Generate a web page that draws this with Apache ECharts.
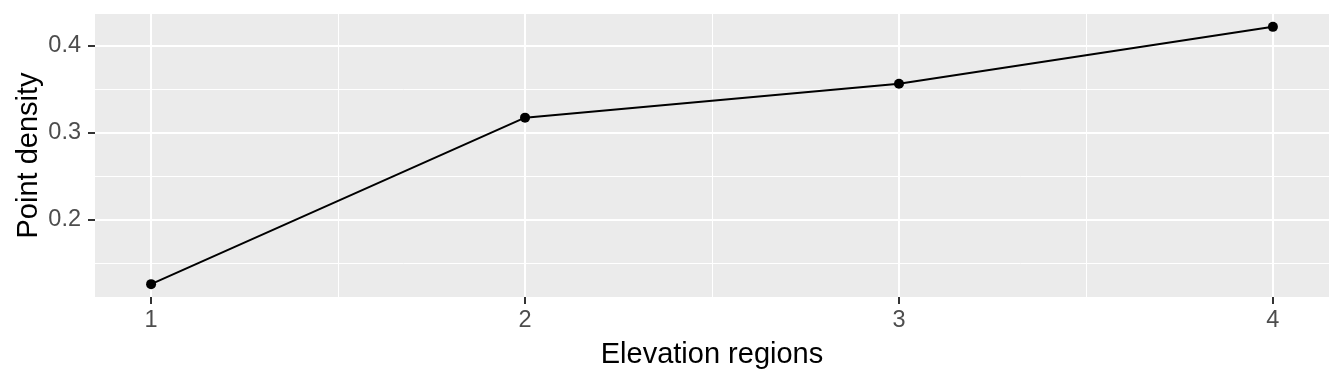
<!DOCTYPE html>
<html>
<head>
<meta charset="utf-8">
<script src="https://cdn.jsdelivr.net/npm/echarts@6/dist/echarts.min.js"></script>
<style>
html,body{margin:0;padding:0;background:#fff;}
#chart{width:1344px;height:384px;}
</style>
</head>
<body>
<div id="chart"></div>
<script>
// Data
const regions = [1, 2, 3, 4];
const density = [0.1263, 0.3176, 0.3566, 0.4219];
const xMajorTicks = [1, 2, 3, 4];
const xMinorTicks = [1.5, 2.5, 3.5];
const yMajorTicks = [0.2, 0.3, 0.4];
const yMinorTicks = [0.15, 0.25, 0.35];
const xTitle = 'Elevation regions';
const yTitle = 'Point density';

const xr = Math.max(...regions) - Math.min(...regions);
const xMin = Math.min(...regions) - 0.05 * xr;
const xMax = Math.max(...regions) + 0.05 * xr;
const yr = Math.max(...density) - Math.min(...density);
const yMin = Math.min(...density) - 0.05 * yr;
const yMax = Math.max(...density) + 0.05 * yr;

const FONT = '"Liberation Sans", Arial, sans-serif';
const chart = echarts.init(document.getElementById('chart'), null, {renderer: 'canvas'});

const gridLines = [];
xMinorTicks.forEach(v => gridLines.push({xAxis: v, lineStyle: {width: 1}}));
yMinorTicks.forEach(v => gridLines.push({yAxis: v, lineStyle: {width: 1}}));
xMajorTicks.forEach(v => gridLines.push({xAxis: v, lineStyle: {width: 2}}));
yMajorTicks.forEach(v => gridLines.push({yAxis: v, lineStyle: {width: 2}}));

chart.setOption({
  animation: false,
  backgroundColor: '#ffffff',
  grid: {
    left: 95, right: 15, top: 14, bottom: 87,
    show: true, backgroundColor: '#EBEBEB', borderWidth: 0
  },
  xAxis: {
    type: 'value', min: xMin, max: xMax,
    name: xTitle, nameLocation: 'middle', nameGap: 43, nameMoveOverlap: false,
    nameTextStyle: {color: '#000', fontSize: 29, fontFamily: FONT},
    axisLine: {show: false},
    axisTick: {show: true, customValues: xMajorTicks, length: 7, lineStyle: {color: '#333333', width: 2}},
    axisLabel: {show: true, customValues: xMajorTicks, margin: 12, color: '#4D4D4D', fontSize: 23.5, fontFamily: FONT,
      formatter: v => String(Math.round(v))},
    splitLine: {show: false}
  },
  yAxis: {
    type: 'value', min: yMin, max: yMax,
    name: yTitle, nameLocation: 'middle', nameGap: 52, nameRotate: 90, nameMoveOverlap: false,
    nameTextStyle: {color: '#000', fontSize: 29, fontFamily: FONT},
    axisLine: {show: false},
    axisTick: {show: true, customValues: yMajorTicks, length: 7, lineStyle: {color: '#333333', width: 2}},
    axisLabel: {show: true, customValues: yMajorTicks, margin: 14, color: '#4D4D4D', fontSize: 23.5, fontFamily: FONT,
      formatter: v => v.toFixed(1)},
    splitLine: {show: false}
  },
  series: [
    {
      type: 'line', data: [], z: 1, silent: true,
      markLine: {
        z: 1, silent: true, symbol: ['none', 'none'], label: {show: false},
        lineStyle: {color: '#FFFFFF', type: 'solid'},
        emphasis: {disabled: true},
        data: gridLines
      }
    },
    {
      type: 'line', z: 3,
      data: regions.map((r, i) => [r, density[i]]),
      symbol: 'circle', symbolSize: 10, showSymbol: true,
      itemStyle: {color: '#000000'},
      lineStyle: {color: '#000000', width: 2}
    }
  ]
});
</script>
</body>
</html>
